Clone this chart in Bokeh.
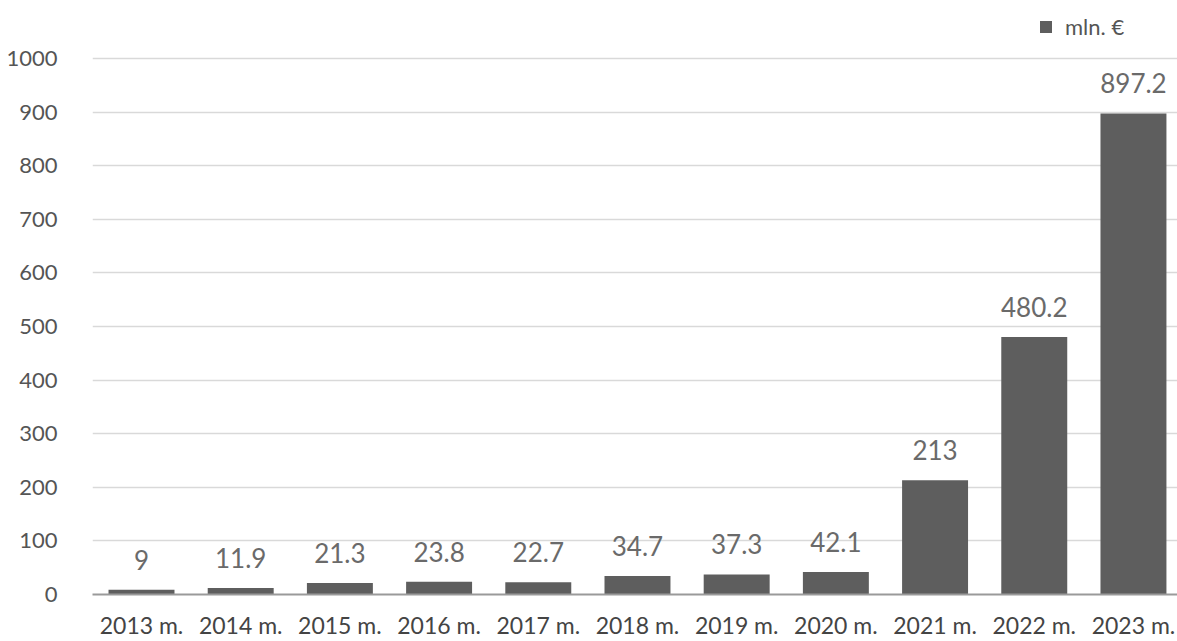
from bokeh.plotting import figure
from bokeh.models import Range1d, FixedTicker, ColumnDataSource, Legend, LegendItem
from bokeh.core.properties import value
from bokeh.embed import file_html
from bokeh.resources import INLINE

years = ["2013 m.", "2014 m.", "2015 m.", "2016 m.", "2017 m.", "2018 m.",
         "2019 m.", "2020 m.", "2021 m.", "2022 m.", "2023 m."]
amounts = [9, 11.9, 21.3, 23.8, 22.7, 34.7, 37.3, 42.1, 213, 480.2, 897.2]
amount_labels = ["9", "11.9", "21.3", "23.8", "22.7", "34.7", "37.3", "42.1", "213", "480.2", "897.2"]
y_ticks = [0, 100, 200, 300, 400, 500, 600, 700, 800, 900, 1000]
series_name = "mln. €"

FONT = "Lato"
idx = list(range(len(years)))
label_gap = 56  # data units above bar top (~30px)

src = ColumnDataSource(dict(
    x=idx, top=amounts, txt=amount_labels,
    ly=[a + label_gap for a in amounts],
))

p = figure(width=1177, height=641, output_backend="svg", toolbar_location=None,
           x_range=Range1d(-0.494, 10.444), y_range=Range1d(0, 1108),
           min_border_left=92, min_border_right=0, min_border_top=0, min_border_bottom=45)
p.outline_line_color = None
p.background_fill_color = "white"
p.border_fill_color = "white"

bars = p.vbar(x="x", top="top", width=0.665, source=src, fill_color="#5e5e5e", line_color=None)
p.text(x="x", y="ly", text="txt", source=src, text_align="center", text_baseline="middle",
       text_font=value(FONT), text_font_size="26px", text_color="#6a6a6a")

p.xaxis.ticker = FixedTicker(ticks=idx)
p.xaxis.major_label_overrides = {i: y for i, y in zip(idx, years)}
p.xaxis.major_tick_line_color = None
p.xaxis.minor_tick_line_color = None
p.xaxis.axis_line_color = "#9a9a9a"
p.xaxis.axis_line_width = 2
p.xaxis.major_label_standoff = 10
p.xaxis.major_label_text_font = FONT
p.xaxis.major_label_text_font_size = "23px"
p.xaxis.major_label_text_color = "#444444"

p.yaxis.ticker = FixedTicker(ticks=y_ticks)
p.yaxis.axis_line_color = None
p.yaxis.major_tick_line_color = None
p.yaxis.minor_tick_line_color = None
p.yaxis.major_label_standoff = 29
p.yaxis.major_label_text_font = FONT
p.yaxis.major_label_text_font_size = "22px"
p.yaxis.major_label_text_color = "#555555"

p.xgrid.grid_line_color = None
p.ygrid.ticker = FixedTicker(ticks=y_ticks[1:])
p.ygrid.grid_line_color = "#d9d9d9"
p.ygrid.grid_line_width = 1.5

legend = Legend(items=[LegendItem(label=series_name, renderers=[bars])],
                location=(946, 554), orientation="horizontal",
                label_text_font=FONT, label_text_font_size="22px", label_text_color="#555555",
                glyph_width=15, glyph_height=15, padding=0, margin=0, spacing=0,
                label_standoff=12, border_line_color=None, background_fill_alpha=0)
p.add_layout(legend)

open("out.html", "w").write(file_html(p, INLINE))
